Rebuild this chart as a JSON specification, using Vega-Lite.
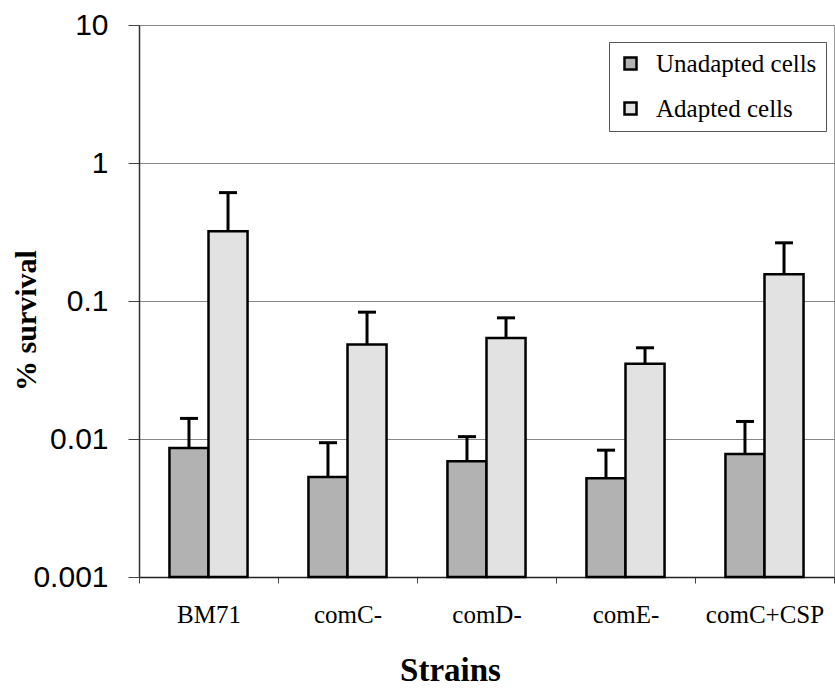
{
  "$schema": "https://vega.github.io/schema/vega-lite/v6.json",
  "autosize": "none",
  "width": 695,
  "height": 552,
  "padding": {"left": 139, "top": 25, "right": 1, "bottom": 121},
  "background": "white",
  "config": {
    "view": {"stroke": "#999999", "strokeWidth": 1},
    "axis": {"labelColor": "black", "titleColor": "black"}
  },
  "data": {
    "values": [
      {"strain": "BM71", "cells": "Unadapted cells", "value": 0.0086, "upper": 0.0141},
      {"strain": "BM71", "cells": "Adapted cells", "value": 0.32, "upper": 0.61},
      {"strain": "comC-", "cells": "Unadapted cells", "value": 0.0053, "upper": 0.0094},
      {"strain": "comC-", "cells": "Adapted cells", "value": 0.0484, "upper": 0.083},
      {"strain": "comD-", "cells": "Unadapted cells", "value": 0.0069, "upper": 0.0104},
      {"strain": "comD-", "cells": "Adapted cells", "value": 0.054, "upper": 0.0755},
      {"strain": "comE-", "cells": "Unadapted cells", "value": 0.0052, "upper": 0.0083},
      {"strain": "comE-", "cells": "Adapted cells", "value": 0.0351, "upper": 0.0458},
      {"strain": "comC+CSP", "cells": "Unadapted cells", "value": 0.0078, "upper": 0.0134},
      {"strain": "comC+CSP", "cells": "Adapted cells", "value": 0.156, "upper": 0.264}
    ]
  },
  "encoding": {
    "x": {
      "field": "strain",
      "type": "nominal",
      "sort": ["BM71", "comC-", "comD-", "comE-", "comC+CSP"],
      "scale": {"paddingInner": 0, "paddingOuter": 0},
      "axis": {
        "title": "Strains",
        "labelAngle": 0,
        "labelFont": "Liberation Serif",
        "labelFontSize": 25,
        "labelBaseline": "alphabetic",
        "labelPadding": 39,
        "tickBand": "extent",
        "tickSize": 6,
        "tickColor": "#444444",
        "tickWidth": 1,
        "domainColor": "#222222",
        "domainWidth": 1.5,
        "grid": false,
        "titleFont": "Liberation Serif",
        "titleFontWeight": "bold",
        "titleFontSize": 33,
        "titleX": 311,
        "titleY": 103,
        "titleBaseline": "alphabetic",
        "titleAlign": "center"
      }
    },
    "xOffset": {
      "field": "cells",
      "type": "nominal",
      "sort": ["Unadapted cells", "Adapted cells"],
      "scale": {"paddingInner": 0, "paddingOuter": 0.78}
    }
  },
  "layer": [
    {
      "mark": {"type": "bar", "stroke": "black", "strokeWidth": 2.5},
      "encoding": {
        "y": {
          "field": "value",
          "type": "quantitative",
          "stack": null,
          "scale": {"type": "log", "domain": [0.001, 10], "nice": false},
          "axis": {
            "title": "% survival",
            "values": [0.001, 0.01, 0.1, 1, 10],
            "format": "~g",
            "labelFont": "Liberation Sans",
            "labelFontSize": 30,
            "labelPadding": 20,
            "tickSize": 11,
            "tickColor": "#444444",
            "domainColor": "#333333",
            "domainWidth": 1.5,
            "grid": true,
            "gridColor": "#888888",
            "gridWidth": 1,
            "titleFont": "Liberation Serif",
            "titleFontWeight": "bold",
            "titleFontSize": 30,
            "titleAngle": -90,
            "titleX": -104,
            "titleY": 295,
            "titleBaseline": "alphabetic",
            "titleAlign": "center"
          }
        },
        "color": {
          "field": "cells",
          "type": "nominal",
          "scale": {"domain": ["Unadapted cells", "Adapted cells"], "range": ["#b2b2b2", "#e2e2e2"]},
          "legend": {
            "title": null,
            "orient": "none",
            "legendX": 470,
            "legendY": 17,
            "fillColor": "white",
            "strokeColor": "#555555",
            "padding": 9,
            "rowPadding": 19,
            "symbolType": "square",
            "symbolSize": 144,
            "symbolStrokeColor": "black",
            "symbolStrokeWidth": 2.5,
            "symbolOpacity": 1,
            "labelFont": "Liberation Serif",
            "labelFontSize": 25,
            "labelColor": "black",
            "labelOffset": 13,
            "labelLimit": 300
          }
        }
      }
    },
    {
      "mark": {"type": "rule", "color": "black", "strokeWidth": 3},
      "encoding": {
        "y": {"field": "value", "type": "quantitative"},
        "y2": {"field": "upper"}
      }
    },
    {
      "mark": {"type": "tick", "color": "black", "size": 18, "thickness": 3, "orient": "horizontal", "opacity": 1},
      "encoding": {
        "y": {"field": "upper", "type": "quantitative"}
      }
    }
  ]
}
